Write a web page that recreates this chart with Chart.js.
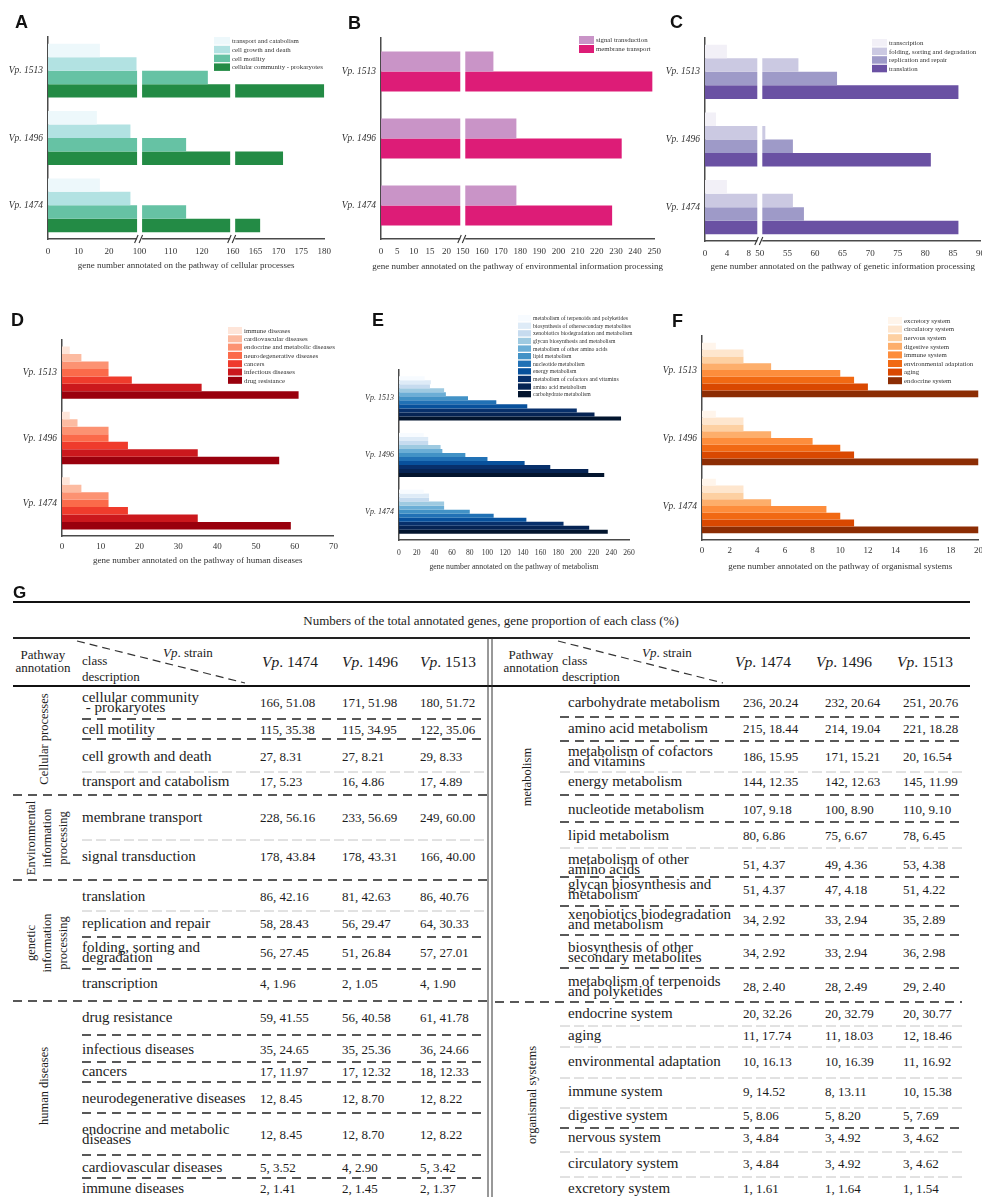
<!DOCTYPE html>
<html>
<head>
<meta charset="utf-8">
<title>KEGG pathway annotation of Vp. strains</title>
<script src="https://cdn.jsdelivr.net/npm/chart.js@4.4.1/dist/chart.umd.min.js"></script>
<style>
  html, body { margin: 0; padding: 0; background: #fff; }
  #fig { position: relative; width: 982px; height: 1197px; overflow: hidden; background: #fff;
         font-family: 'Liberation Serif', 'Times New Roman', serif; color: #1c1c1c; }
  #rules { position: absolute; left: 0; top: 0; }
  .letter { position: absolute; font-family: 'Liberation Sans', Arial, sans-serif; font-weight: bold;
            font-size: 18px; line-height: 1; color: #111; }
  .t { position: absolute; white-space: pre; line-height: 1; }
  .l { transform: translateY(-50%); }
  .c { transform: translate(-50%, -50%); text-align: center; }
  .rot { transform: translate(-50%, -50%) rotate(-90deg); text-align: center; }
  .desc { font-size: 15px; }
  .two { line-height: 10.5px; }
  .val { font-size: 13px; }
  .head { font-size: 13px; }
  .strain { font-size: 15.5px; }
  .grp { font-size: 12.5px; line-height: 16px; }
</style>
</head>
<body>
<div id="fig">
  <svg id="rules" width="982" height="1197"></svg>
</div>
<script>
// ---------- data ----------
const strains = ['Vp. 1513', 'Vp. 1496', 'Vp. 1474'];

// A: cellular processes
const cellularLabels = ['transport and catabolism', 'cell growth and death', 'cell motility', 'cellular community - prokaryotes'];
const transportCatabolism = [17, 16, 17];
const cellGrowthDeath = [29, 27, 27];
const cellMotility = [122, 115, 115];
const cellularCommunity = [180, 171, 166];
const cellularTicks = [[0, 10, 20], [100, 110, 120], [160, 165, 170, 175, 180]];

// B: environmental information processing
const envLabels = ['signal transduction', 'membrane transport'];
const signalTransduction = [166, 178, 178];
const membraneTransport = [249, 233, 228];
const envTicks = [[0, 5, 10, 15, 20], [150, 160, 170, 180, 190, 200, 210, 220, 230, 240, 250]];

// C: genetic information processing
const geneticLabels = ['transcription', 'folding, sorting and degradation', 'replication and repair', 'translation'];
const transcription = [4, 2, 4];
const foldingSorting = [57, 51, 56];
const replicationRepair = [64, 56, 58];
const translation = [86, 81, 86];
const geneticTicks = [[0, 4, 8], [50, 55, 60, 65, 70, 75, 80, 85, 90]];

// D: human diseases
const diseaseLabels = ['immune diseases', 'cardiovascular diseases', 'endocrine and metabolic diseases',
  'neurodegenerative diseases', 'cancers', 'infectious diseases', 'drug resistance'];
const immuneDiseases = [2, 2, 2];
const cardiovascular = [5, 4, 5];
const endocrineMetabolic = [12, 12, 12];
const neurodegenerative = [12, 12, 12];
const cancers = [18, 17, 17];
const infectiousDiseases = [36, 35, 35];
const drugResistance = [61, 56, 59];
const diseaseTicks = [0, 10, 20, 30, 40, 50, 60, 70];

// E: metabolism
const metabolismLabels = ['metabolism of terpenoids and polyketides', 'biosynthesis of othersecondary metabolites',
  'xenobiotics biodegradation and metabolism', 'glycan biosynthesis and metabolism', 'metabolism of other amino acids',
  'lipid metabolism', 'nucleotide metabolism', 'energy metabolism', 'metabolism of cofactors and vitamins',
  'amino acid metabolism', 'carbohydrate metabolism'];
const terpenoids = [29, 28, 28];
const secondaryMetabolites = [36, 33, 34];
const xenobiotics = [35, 33, 34];
const glycan = [51, 47, 51];
const otherAminoAcids = [53, 49, 51];
const lipid = [78, 75, 80];
const nucleotide = [110, 100, 107];
const energy = [145, 142, 144];
const cofactors = [201, 171, 186];
const aminoAcid = [221, 214, 215];
const carbohydrate = [251, 232, 236];
const metabolismTicks = [0, 20, 40, 60, 80, 100, 120, 140, 160, 180, 200, 220, 240, 260];

// F: organismal systems
const organismalLabels = ['excretory system', 'circulatory system', 'nervous system', 'digestive system',
  'immune system', 'environmental adaptation', 'aging', 'endocrine system'];
const excretory = [1, 1, 1];
const circulatory = [3, 3, 3];
const nervous = [3, 3, 3];
const digestive = [5, 5, 5];
const immuneSystem = [10, 8, 9];
const environmentalAdaptation = [11, 10, 10];
const aging = [12, 11, 11];
const endocrineSystem = [20, 20, 20];
const organismalTicks = [0, 2, 4, 6, 8, 10, 12, 14, 16, 18, 20];

// G: table rows (class, Vp. 1474, Vp. 1496, Vp. 1513)
const tableStrains = ['1474', '1496', '1513'];
const cellularRows = [
  ['cellular community\n - prokaryotes', '166, 51.08', '171, 51.98', '180, 51.72'],
  ['cell motility', '115, 35.38', '115, 34.95', '122, 35.06'],
  ['cell growth and death', '27, 8.31', '27, 8.21', '29, 8.33'],
  ['transport and catabolism', '17, 5.23', '16, 4.86', '17, 4.89']];
const environmentalRows = [
  ['membrane transport', '228, 56.16', '233, 56.69', '249, 60.00'],
  ['signal transduction', '178, 43.84', '178, 43.31', '166, 40.00']];
const geneticRows = [
  ['translation', '86, 42.16', '81, 42.63', '86, 40.76'],
  ['replication and repair', '58, 28.43', '56, 29.47', '64, 30.33'],
  ['folding, sorting and\ndegradation', '56, 27.45', '51, 26.84', '57, 27.01'],
  ['transcription', '4, 1.96', '2, 1.05', '4, 1.90']];
const humanRows = [
  ['drug resistance', '59, 41.55', '56, 40.58', '61, 41.78'],
  ['infectious diseases', '35, 24.65', '35, 25.36', '36, 24.66'],
  ['cancers', '17, 11.97', '17, 12.32', '18, 12.33'],
  ['neurodegenerative diseases', '12, 8.45', '12, 8.70', '12, 8.22'],
  ['endocrine and metabolic\ndiseases', '12, 8.45', '12, 8.70', '12, 8.22'],
  ['cardiovascular diseases', '5, 3.52', '4, 2.90', '5, 3.42'],
  ['immune diseases', '2, 1.41', '2, 1.45', '2, 1.37']];
const metabolismRows = [
  ['carbohydrate metabolism', '236, 20.24', '232, 20.64', '251, 20.76'],
  ['amino acid metabolism', '215, 18.44', '214, 19.04', '221, 18.28'],
  ['metabolism of cofactors\nand vitamins', '186, 15.95', '171, 15.21', '20, 16.54'],
  ['energy metabolism', '144, 12.35', '142, 12.63', '145, 11.99'],
  ['nucleotide metabolism', '107, 9.18', '100, 8.90', '110, 9.10'],
  ['lipid metabolism', '80, 6.86', '75, 6.67', '78, 6.45'],
  ['metabolism of other\namino acids', '51, 4.37', '49, 4.36', '53, 4.38'],
  ['glycan biosynthesis and\nmetabolism', '51, 4.37', '47, 4.18', '51, 4.22'],
  ['xenobiotics biodegradation\nand metabolism', '34, 2.92', '33, 2.94', '35, 2.89'],
  ['biosynthesis of other\nsecondary metabolites', '34, 2.92', '33, 2.94', '36, 2.98'],
  ['metabolism of terpenoids\nand polyketides', '28, 2.40', '28, 2.49', '29, 2.40']];
const organismalRows = [
  ['endocrine system', '20, 32.26', '20, 32.79', '20, 30.77'],
  ['aging', '11, 17.74', '11, 18.03', '12, 18.46'],
  ['environmental adaptation', '10, 16.13', '10, 16.39', '11, 16.92'],
  ['immune system', '9, 14.52', '8, 13.11', '10, 15.38'],
  ['digestive system', '5, 8.06', '5, 8.20', '5, 7.69'],
  ['nervous system', '3, 4.84', '3, 4.92', '3, 4.62'],
  ['circulatory system', '3, 4.84', '3, 4.92', '3, 4.62'],
  ['excretory system', '1, 1.61', '1, 1.64', '1, 1.54']];

// ---------- styles ----------
const SERIF = "'Liberation Serif', 'Times New Roman', serif";
const TEXT = '#333';
const AXIS = '#4a4a4a';
const greens = ['#edf8fb', '#b2e2e2', '#66c2a4', '#238b45'];
const pinks = ['#c994c7', '#dd1c77'];
const purples = ['#f2f0f7', '#cbc9e2', '#9e9ac8', '#6a51a3'];
const reds = ['#fee5d9', '#fcbba1', '#fc9272', '#fb6a4a', '#ef3b2c', '#cb181d', '#99000d'];
const blues = ['#f7fbff', '#deebf7', '#c6dbef', '#9ecae1', '#6baed6', '#4292c6', '#2171b5', '#08519c', '#08306b', '#062454', '#03152e'];
const oranges = ['#fff5eb', '#fee6ce', '#fdd0a2', '#fdae6b', '#fd8d3c', '#f16913', '#d94801', '#8c2d04'];

const fig = document.getElementById('fig');

// ---------- chart panels ----------
const panels = [
  { id: 'A', left: 0, top: 0, w: 338, h: 275, pad: { top: 37, right: 0, bottom: 18 }, yWidth: 48,
    labels: cellularLabels, values: [transportCatabolism, cellGrowthDeath, cellMotility, cellularCommunity],
    colors: greens, catPct: 0.8, yFont: 9.5, xFont: 9, xPad: 7,
    segments: [{ min: 0, max: 30, ticks: cellularTicks[0], weight: 91.5 },
               { min: 100, max: 130, ticks: cellularTicks[1], weight: 93 },
               { min: 160, max: 180, ticks: cellularTicks[2], weight: 91.5 }],
    legend: { x: 214, y: 37, boxW: 16, boxH: 7.5, rowH: 8.8, size: 6.8 },
    caption: 'gene number annotated on the pathway of cellular processes', capDy: 27, capSize: 9 },
  { id: 'B', left: 330, top: 0, w: 338, h: 275, pad: { top: 38, right: 0, bottom: 18 }, yWidth: 51,
    labels: envLabels, values: [signalTransduction, membraneTransport],
    colors: pinks, catPct: 0.6, yFont: 9.5, xFont: 9, xPad: 7,
    segments: [{ min: 0, max: 25, ticks: envTicks[0], weight: 82 },
               { min: 150, max: 250, ticks: envTicks[1], weight: 192 }],
    legend: { x: 249, y: 36, boxW: 15, boxH: 8, rowH: 9, size: 6.8 },
    caption: 'gene number annotated on the pathway of environmental information processing', capDy: 28, capSize: 9 },
  { id: 'C', left: 655, top: 0, w: 337, h: 275, pad: { top: 38, right: 0, bottom: 16 }, yWidth: 50,
    labels: geneticLabels, values: [transcription, foldingSorting, replicationRepair, translation],
    colors: purples, catPct: 0.8, yFont: 9.5, xFont: 9, xPad: 7,
    segments: [{ min: 0, max: 10, ticks: geneticTicks[0], weight: 54.5 },
               { min: 50, max: 90, ticks: geneticTicks[1], weight: 219.5 }],
    legend: { x: 217, y: 39, boxW: 15, boxH: 7.5, rowH: 8.6, size: 6.8 },
    caption: 'gene number annotated on the pathway of genetic information processing', capDy: 26, capSize: 9 },
  { id: 'D', left: 0, top: 300, w: 343, h: 275, pad: { top: 40, right: 0, bottom: 21 }, yWidth: 62,
    labels: diseaseLabels,
    values: [immuneDiseases, cardiovascular, endocrineMetabolic, neurodegenerative, cancers, infectiousDiseases, drugResistance],
    colors: reds, catPct: 0.8, yFont: 9.5, xFont: 9, xPad: 5, min: 0, max: 70, ticks: diseaseTicks,
    legend: { x: 228, y: 27, boxW: 14, boxH: 7, rowH: 8.3, size: 6.8 },
    caption: 'gene number annotated on the pathway of human diseases', capDy: 25, capSize: 9 },
  { id: 'E', left: 340, top: 300, w: 320, h: 275, pad: { top: 70, right: 31, bottom: 17 }, yWidth: 59,
    labels: metabolismLabels,
    values: [terpenoids, secondaryMetabolites, xenobiotics, glycan, otherAminoAcids, lipid, nucleotide, energy, cofactors, aminoAcid, carbohydrate],
    colors: blues, catPct: 0.78, yFont: 8, xFont: 7.6, xPad: 8, min: 0, max: 260, ticks: metabolismTicks,
    legend: { x: 178, y: 15, boxW: 13, boxH: 6.3, rowH: 7.6, size: 5.7 },
    caption: 'gene number annotated on the pathway of metabolism', capDy: 27, capSize: 7.8 },
  { id: 'F', left: 660, top: 300, w: 328, h: 275, pad: { top: 36, right: 0, bottom: 17 }, yWidth: 42,
    labels: organismalLabels,
    values: [excretory, circulatory, nervous, digestive, immuneSystem, environmentalAdaptation, aging, endocrineSystem],
    colors: oranges, catPct: 0.8, yFont: 9.5, xFont: 9, xPad: 5, min: 0, max: 20, ticks: organismalTicks,
    legend: { x: 228, y: 17, boxW: 14, boxH: 7, rowH: 8.6, size: 6.8 },
    caption: 'gene number annotated on the pathway of organismal systems', capDy: 27, capSize: 9 }
];

function valueAxis(p, o) {
  const axis = {
    type: 'linear', min: o.min, max: o.max, stacked: false,
    grid: { display: false, drawTicks: false },
    border: { display: true, color: AXIS, width: 1.5 },
    ticks: { color: TEXT, font: { family: SERIF, size: p.xFont }, padding: p.xPad, autoSkip: false, maxRotation: 0, minRotation: 0 },
    afterBuildTicks(s) { s.ticks = o.ticks.map(v => ({ value: v })); },
    afterFit(s) { s.height = 18; }
  };
  if (o.weight) { axis.stack = 'broken'; axis.stackWeight = o.weight; }
  return axis;
}

function buildDatasets(p) {
  const sets = [];
  p.labels.forEach((label, i) => {
    const common = { label, backgroundColor: p.colors[i], borderWidth: 0,
                     categoryPercentage: p.catPct, barPercentage: 1 };
    if (!p.segments) {
      sets.push(Object.assign({ data: p.values[i] }, common));
      return;
    }
    // one floating piece per axis segment, sharing a slot through the stack key
    p.segments.forEach((g, k) => {
      sets.push(Object.assign({
        stack: label, xAxisID: 'x' + k,
        data: p.values[i].map(v => v > g.min ? [g.min, Math.min(v, g.max)] : null)
      }, common));
    });
  });
  return sets;
}

function decorPlugin(p) {
  return {
    id: 'decor' + p.id,
    afterDatasetsDraw(chart) {
      if (!p.segments) return;
      const a = chart.chartArea, ctx = chart.ctx;
      ctx.save();
      ctx.fillStyle = '#fff';
      for (let k = 0; k < p.segments.length - 1; k++) {
        const b = chart.scales['x' + k].right;
        ctx.fillRect(b - 2.5, a.top, 5, a.bottom - a.top - 1.5);
      }
      ctx.restore();
    },
    afterDraw(chart) {
      const a = chart.chartArea, ctx = chart.ctx;
      ctx.save();
      // axis break marks
      if (p.segments) {
        for (let k = 0; k < p.segments.length - 1; k++) {
          const b = chart.scales['x' + k].right, y = a.bottom;
          ctx.fillStyle = '#fff';
          ctx.fillRect(b - 2.5, y - 2, 5, 4);
          ctx.strokeStyle = '#333';
          ctx.lineWidth = 1.1;
          ctx.beginPath();
          ctx.moveTo(b - 5, y + 4); ctx.lineTo(b - 1.5, y - 4);
          ctx.moveTo(b - 0.5, y + 4); ctx.lineTo(b + 3, y - 4);
          ctx.stroke();
        }
      }
      // legend
      const L = p.legend, seen = new Set();
      let row = 0;
      ctx.font = `${L.size}px ${SERIF}`;
      ctx.textBaseline = 'middle';
      ctx.textAlign = 'left';
      chart.data.datasets.forEach(ds => {
        if (seen.has(ds.label)) return;
        seen.add(ds.label);
        const y = L.y + row * L.rowH;
        ctx.fillStyle = ds.backgroundColor;
        ctx.fillRect(L.x, y, L.boxW, L.boxH);
        ctx.fillStyle = TEXT;
        ctx.fillText(ds.label, L.x + L.boxW + 2, y + L.boxH / 2 + 0.5);
        row++;
      });
      // axis caption
      ctx.font = `${p.capSize}px ${SERIF}`;
      ctx.textAlign = 'center';
      ctx.fillStyle = TEXT;
      ctx.fillText(p.caption, (a.left + a.right) / 2, a.bottom + p.capDy);
      ctx.restore();
    }
  };
}

function makeChart(p) {
  const cv = document.createElement('canvas');
  cv.width = p.w; cv.height = p.h;
  cv.style.cssText = `position:absolute;left:${p.left}px;top:${p.top}px;width:${p.w}px;height:${p.h}px;`;
  fig.appendChild(cv);

  const scales = {
    y: {
      type: 'category',
      grid: { display: false, drawTicks: false },
      border: { display: true, color: AXIS, width: 1.5 },
      ticks: { color: TEXT, font: { family: SERIF, size: p.yFont, style: 'italic' }, padding: 5 },
      afterFit(s) { s.width = p.yWidth; }
    }
  };
  if (p.segments) {
    p.segments.forEach((g, k) => { scales['x' + k] = valueAxis(p, g); });
  } else {
    scales.x = valueAxis(p, { min: p.min, max: p.max, ticks: p.ticks });
  }

  new Chart(cv.getContext('2d'), {
    type: 'bar',
    data: { labels: strains, datasets: buildDatasets(p) },
    options: {
      indexAxis: 'y',
      responsive: false,
      animation: false,
      devicePixelRatio: 1,
      layout: { padding: { top: p.pad.top, right: p.pad.right, bottom: p.pad.bottom, left: 0 } },
      scales,
      plugins: { legend: { display: false }, tooltip: { enabled: false } }
    },
    plugins: [decorPlugin(p)]
  });

  const letter = document.createElement('div');
  letter.className = 'letter';
  letter.textContent = p.id;
  fig.appendChild(letter);
  return letter;
}

const letterPos = { A: [15, 13], B: [348, 14], C: [670, 13], D: [11, 311], E: [372, 311], F: [672, 312] };
panels.forEach(p => {
  const el = makeChart(p);
  el.style.left = letterPos[p.id][0] + 'px';
  el.style.top = letterPos[p.id][1] + 'px';
});

// ---------- table G ----------
const svgNS = 'http://www.w3.org/2000/svg';
const svg = document.getElementById('rules');
function line(x1, y1, x2, y2, stroke, width, dash) {
  const l = document.createElementNS(svgNS, 'line');
  l.setAttribute('x1', x1); l.setAttribute('y1', y1);
  l.setAttribute('x2', x2); l.setAttribute('y2', y2);
  l.setAttribute('stroke', stroke); l.setAttribute('stroke-width', width);
  if (dash) l.setAttribute('stroke-dasharray', dash);
  svg.appendChild(l);
}
function put(html, x, y, cls) {
  const d = document.createElement('div');
  d.className = 't ' + cls;
  d.innerHTML = html;
  d.style.left = x + 'px';
  d.style.top = y + 'px';
  fig.appendChild(d);
  return d;
}

const gLetter = document.createElement('div');
gLetter.className = 'letter';
gLetter.textContent = 'G';
gLetter.style.cssText = 'left:13px;top:584px;font-size:17px;';
fig.appendChild(gLetter);

// rules
line(13, 602, 970, 602, '#111', 2);
line(13, 638, 970, 638, '#222', 2);
line(13, 686, 970, 686, '#111', 2);
line(488, 638, 488, 1197, '#333', 1);
line(492, 638, 492, 1197, '#333', 1);
line(77, 641, 245, 683, '#333', 1.2, '8 5');
line(558, 641, 723, 683, '#333', 1.2, '8 5');

const BLACK = ['#222', 1.4, '9 6'];
const GREY = ['#c4c4c4', 1, '10 4'];
const leftRules = [[719, 82, BLACK], [739, 82, BLACK], [772, 82, GREY], [795, 13, BLACK], [840, 82, GREY],
  [880, 13, BLACK], [911, 82, GREY], [937, 82, BLACK], [969, 82, BLACK], [1001, 13, BLACK], [1035, 82, BLACK],
  [1062, 82, BLACK], [1082, 82, BLACK], [1113, 82, BLACK], [1155, 82, BLACK], [1178, 82, BLACK]];
const rightRules = [[717, 560, BLACK], [741, 560, BLACK], [772, 560, GREY], [795, 560, BLACK], [822, 560, BLACK],
  [848, 560, GREY], [877, 560, BLACK], [906, 560, BLACK], [935, 560, BLACK], [968, 560, BLACK], [1002, 495, BLACK],
  [1026, 560, GREY], [1047, 560, GREY], [1078, 560, GREY], [1108, 560, GREY], [1128, 560, BLACK],
  [1152, 560, GREY], [1177, 560, GREY]];
leftRules.forEach(([y, x0, s]) => line(x0, y, 487, y, s[0], s[1], s[2]));
rightRules.forEach(([y, x0, s]) => line(x0, y, 962, y, s[0], s[1], s[2]));

// heading
put('Numbers of the total annotated genes, gene proportion of each class (%)', 491, 620, 'c head');
function header(cx, classX, strainX, cols) {
  put('Pathway\nannotation', cx, 661, 'c head');
  put('class', classX, 660, 'l head');
  put('description', classX, 676, 'l head');
  put('<i>Vp</i>. strain', strainX, 652, 'l head');
  cols.forEach((x, i) => put('<i>Vp</i>. ' + tableStrains[i], x, 662, 'l strain'));
}
header(43, 82, 163, [262, 342, 420]);
header(531, 562, 642, [735, 816, 897]);

// body rows
const leftRowY = [703, 730, 757, 782, 818, 857, 897, 924, 953, 984, 1018, 1050, 1072, 1099, 1135, 1168, 1189];
const rightRowY = [703, 729, 757, 782, 810, 836, 865, 890, 920, 953, 987, 1014, 1036, 1062, 1092, 1116, 1138, 1164, 1189];
function rows(list, ys, descX, valX) {
  list.forEach((r, i) => {
    const y = ys[i] - 1.5;
    put(r[0], descX, y, 'l desc' + (r[0].includes('\n') ? ' two' : ''));
    for (let k = 1; k < 4; k++) put(r[k], valX[k - 1], y, 'l val');
  });
}
rows([...cellularRows, ...environmentalRows, ...geneticRows, ...humanRows], leftRowY, 82, [260, 342, 420]);
rows([...metabolismRows, ...organismalRows], rightRowY, 568, [743, 825, 903]);

// rotated group names
put('Cellular processes', 44, 739, 'rot grp');
put('Environmental\ninformation\nprocessing', 47, 838, 'rot grp');
put('genetic\ninformation\nprocessing', 47, 943, 'rot grp');
put('human diseases', 44, 1086, 'rot grp');
put('metabolism', 527, 777, 'rot grp');
put('organismal systems', 532, 1095, 'rot grp');
</script>
</body>
</html>
